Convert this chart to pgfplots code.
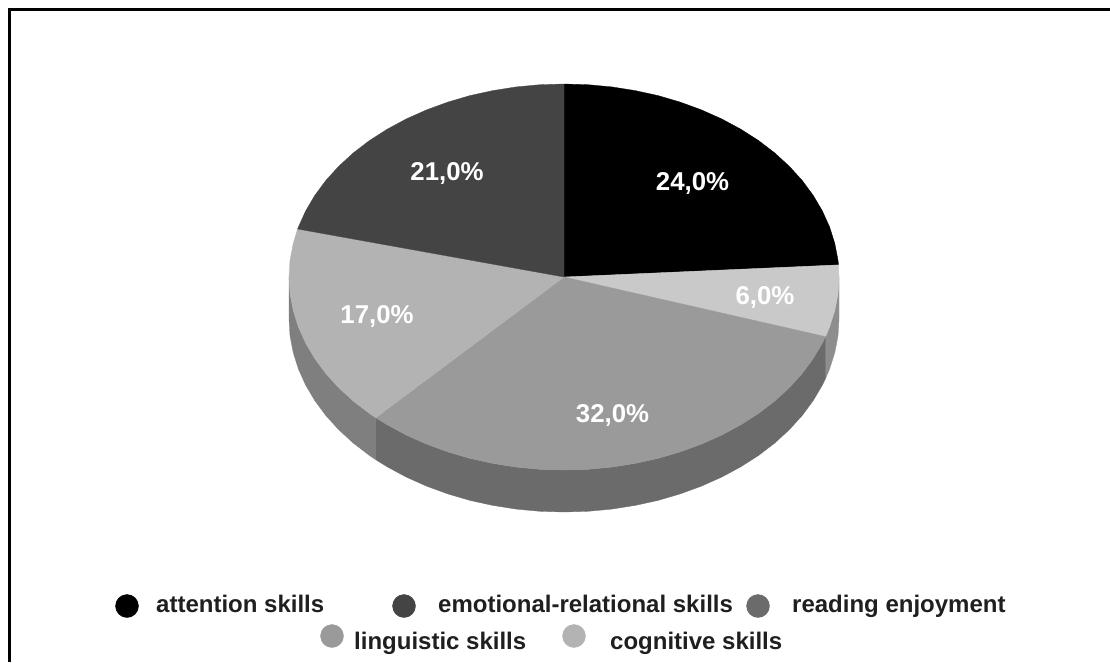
\documentclass[border=0pt]{standalone}
\usepackage{pgfplots}
\pgfplotsset{compat=1.18}
\usepackage{fontspec}
\setmainfont{Liberation Sans}
\definecolor{cA}{HTML}{000000}
\definecolor{cB}{HTML}{444444}
\definecolor{cC}{HTML}{9A9A9A}
\definecolor{cD}{HTML}{B3B3B3}
\definecolor{cE}{HTML}{C9C9C9}
\definecolor{wR}{HTML}{8E8E8E}
\definecolor{wM}{HTML}{6B6B6B}
\definecolor{wL}{HTML}{7F7F7F}
\definecolor{mC}{HTML}{6B6B6B}
\tikzset{
  lab/.style={font=\fontsize{25.8}{26}\selectfont\bfseries, text=white, inner sep=0pt},
  leg/.style={font=\fontsize{24}{24}\selectfont\bfseries, text=black!88, inner sep=0pt, anchor=base west},
}
\begin{document}
\begin{tikzpicture}
\path[use as bounding box] (0,0) rectangle (1110pt,662pt);
\begin{axis}[
  at={(0,0)}, anchor=south west,
  scale only axis, width=1110pt, height=662pt,
  xmin=0, xmax=1110, ymin=0, ymax=662, y dir=reverse,
  hide axis, clip=false,
]
% frame
\addplot[draw=black, line width=2.6pt, forget plot] coordinates {(9.3,662) (9.3,9.5) (1110,9.5)};
% side walls
\addplot[fill=wR, draw=wR, line width=0.3pt, forget plot] coordinates {
(839,277)(838,293.8)(834.8,310.5)(829.6,327)(825.5,336.6)
(825.5,378.6)(829.6,369)(834.8,352.5)(838,335.8)(839,319)} --cycle;
\addplot[fill=wM, draw=wM, line width=0.3pt, forget plot] coordinates {
(825.5,336.6)(822.4,343)(813.2,358.6)(802.2,373.5)(789.3,387.7)(774.7,401.1)(758.5,413.5)(740.8,424.8)(721.7,435.1)(701.5,444.1)(680.2,451.9)(658.1,458.4)(635.2,463.4)(611.8,467.1)(588,469.3)(564,470)(540,469.3)(516.2,467.1)(492.8,463.4)(469.9,458.4)(447.8,451.9)(426.5,444.1)(406.3,435.1)(387.2,424.8)(375.8,417.7)
(375.8,459.7)(387.2,466.8)(406.3,477.1)(426.5,486.1)(447.8,493.9)(469.9,500.4)(492.8,505.4)(516.2,509.1)(540,511.3)(564,512)(588,511.3)(611.8,509.1)(635.2,505.4)(658.1,500.4)(680.2,493.9)(701.5,486.1)(721.7,477.1)(740.8,466.8)(758.5,455.5)(774.7,443.1)(789.3,429.7)(802.2,415.5)(813.2,400.6)(822.4,385)(825.5,378.6)} --cycle;
\addplot[fill=wL, draw=wL, line width=0.3pt, forget plot] coordinates {
(375.8,417.7)(369.5,413.5)(353.3,401.1)(338.7,387.7)(325.8,373.5)(314.8,358.6)(305.6,343)(298.4,327)(293.2,310.5)(290,293.8)(289,277)
(289,319)(290,335.8)(293.2,352.5)(298.4,369)(305.6,385)(314.8,400.6)(325.8,415.5)(338.7,429.7)(353.3,443.1)(369.5,455.5)(375.8,459.7)} --cycle;
% top slices
\addplot[fill=cA, draw=cA, line width=0.3pt, forget plot] coordinates {
(564,277)(564,84)(588,84.7)(611.8,86.9)(635.2,90.6)(658.1,95.6)(680.2,102.1)(701.5,109.9)(721.7,118.9)(740.8,129.2)(758.5,140.5)(774.7,152.9)(789.3,166.3)(802.2,180.5)(813.2,195.4)(822.4,211)(829.6,227)(834.8,243.5)(838,260.2)(838.5,264.9)} --cycle;
\addplot[fill=cE, draw=cE, line width=0.3pt, forget plot] coordinates {
(564,277)(838.5,264.9)(839,277)(838,293.8)(834.8,310.5)(829.6,327)(825.5,336.6)} --cycle;
\addplot[fill=cC, draw=cC, line width=0.3pt, forget plot] coordinates {
(564,277)(825.5,336.6)(822.4,343)(813.2,358.6)(802.2,373.5)(789.3,387.7)(774.7,401.1)(758.5,413.5)(740.8,424.8)(721.7,435.1)(701.5,444.1)(680.2,451.9)(658.1,458.4)(635.2,463.4)(611.8,467.1)(588,469.3)(564,470)(540,469.3)(516.2,467.1)(492.8,463.4)(469.9,458.4)(447.8,451.9)(426.5,444.1)(406.3,435.1)(387.2,424.8)(375.8,417.7)} --cycle;
\addplot[fill=cD, draw=cD, line width=0.3pt, forget plot] coordinates {
(564,277)(375.8,417.7)(369.5,413.5)(353.3,401.1)(338.7,387.7)(325.8,373.5)(314.8,358.6)(305.6,343)(298.4,327)(293.2,310.5)(290,293.8)(289,277)(290,260.2)(293.2,243.5)(297.6,229)} --cycle;
\addplot[fill=cB, draw=cB, line width=0.3pt, forget plot] coordinates {
(564,277)(297.6,229)(298.4,227)(305.6,211)(314.8,195.4)(325.8,180.5)(338.7,166.3)(353.3,152.9)(369.5,140.5)(387.2,129.2)(406.3,118.9)(426.5,109.9)(447.8,102.1)(469.9,95.6)(492.8,90.6)(516.2,86.9)(540,84.7)(564,84)} --cycle;
% legend markers
\addplot[only marks, mark=*, mark size=11.5pt, mark options={draw=cA, fill=cA}, forget plot] coordinates {(127,606)};
\addplot[only marks, mark=*, mark size=11.5pt, mark options={draw=cB, fill=cB}, forget plot] coordinates {(404,606)};
\addplot[only marks, mark=*, mark size=11.5pt, mark options={draw=mC, fill=mC}, forget plot] coordinates {(758,606)};
\addplot[only marks, mark=*, mark size=11.5pt, mark options={draw=cC, fill=cC}, forget plot] coordinates {(332,636)};
\addplot[only marks, mark=*, mark size=11.5pt, mark options={draw=cD, fill=cD}, forget plot] coordinates {(574,636)};
% data labels
\node[lab] at (axis cs:692.5,183) {24,0\%};
\node[lab] at (axis cs:447,173) {21,0\%};
\node[lab] at (axis cs:765,297) {6,0\%};
\node[lab] at (axis cs:377,316) {17,0\%};
\node[lab] at (axis cs:612.5,415) {32,0\%};
% legend text
\node[leg] at (axis cs:156,612) {attention skills};
\node[leg] at (axis cs:438,612) {emotional-relational skills};
\node[leg] at (axis cs:792,612) {reading enjoyment};
\node[leg] at (axis cs:354,649) {linguistic skills};
\node[leg] at (axis cs:610,649) {cognitive skills};
\end{axis}
\end{tikzpicture}
\end{document}
